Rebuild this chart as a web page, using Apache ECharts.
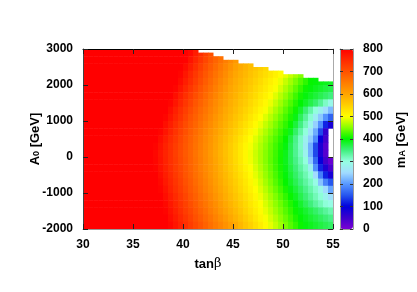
<!DOCTYPE html>
<html><head><meta charset="utf-8">
<script src="https://cdn.jsdelivr.net/npm/echarts/dist/echarts.min.js"></script>
<style>html,body{margin:0;padding:0;background:#fff}#c{width:417px;height:292px}</style>
</head><body><div id="c"></div>
<script>
// tanβ cell centres
const tanBeta = [30.25,30.75,31.25,31.75,32.25,32.75,33.25,33.75,34.25,34.75,
  35.25,35.75,36.25,36.75,37.25,37.75,38.25,38.75,39.25,39.75,
  40.25,40.75,41.25,41.75,42.25,42.75,43.25,43.75,44.25,44.75,
  45.25,45.75,46.25,46.75,47.25,47.75,48.25,48.75,49.25,49.75,
  50.25,50.75,51.25,51.75,52.25,52.75,53.25,53.75,54.25,54.75];
// A0 cell centres (GeV), top row first
const a0 = [2900,2700,2500,2300,2100,1900,1700,1500,1300,1100,900,700,500,300,100,
  -100,-300,-500,-700,-900,-1100,-1300,-1500,-1700,-1900];
// upper A0 limit of the scanned region for each tanβ column
const a0Top = [3000,3000,3000,3000,3000,3000,3000,3000,3000,3000,
  3000,3000,3000,3000,3000,3000,3000,3000,3000,3000,
  3000,3000,3000,2900,2900,2900,2800,2800,2700,2700,
  2700,2600,2600,2600,2500,2500,2500,2400,2400,2400,
  2300,2300,2300,2300,2200,2200,2200,2100,2100,2100];
// m_A (GeV); null = no valid point
const _ = null;
const mA = [
 [800,800,800,800,800,800,800,800,800,800,800,800,800,800,800,800,800,800,800,800,800,789,767,746,724,702,_,_,_,_,_,_,_,_,_,_,_,_,_,_,_,_,_,_,_,_,_,_,_,_],
 [800,800,800,800,800,800,800,800,800,800,800,800,800,800,800,800,800,800,800,800,798,777,756,735,715,695,679,663,647,631,615,_,_,_,_,_,_,_,_,_,_,_,_,_,_,_,_,_,_,_],
 [800,800,800,800,800,800,800,800,800,800,800,800,800,800,800,800,800,800,800,800,786,765,745,724,704,687,670,654,638,621,605,593,583,572,562,552,542,_,_,_,_,_,_,_,_,_,_,_,_,_],
 [800,800,800,800,800,800,800,800,800,800,800,800,800,800,800,800,800,800,800,794,774,754,734,714,695,679,662,646,630,613,598,587,577,566,556,545,535,524,514,503,491,477,464,450,_,_,_,_,_,_],
 [800,800,800,800,800,800,800,800,800,800,800,800,800,800,800,800,800,800,800,786,766,746,726,706,688,672,655,638,622,605,592,582,571,560,549,538,527,516,505,492,477,462,447,432,417,402,397,393,389,385],
 [800,800,800,800,800,800,800,800,800,800,800,800,800,800,800,800,800,800,794,775,755,735,716,697,680,664,648,631,615,599,588,577,566,554,543,532,521,510,498,483,467,452,436,420,405,396,389,383,376,370],
 [800,800,800,800,800,800,800,800,800,800,800,800,800,800,800,800,800,800,783,763,744,725,706,689,673,656,640,624,608,594,583,571,560,548,537,525,514,502,487,471,456,440,424,408,395,386,377,368,359,350],
 [800,800,800,800,800,800,800,800,800,800,800,800,800,800,800,800,800,794,775,755,735,716,697,681,665,649,633,617,602,589,577,565,554,542,530,518,506,492,477,461,445,430,414,399,385,371,357,338,314,290],
 [800,800,800,800,800,800,800,800,800,800,800,800,800,800,800,800,800,783,763,744,725,706,689,673,658,642,627,611,596,584,572,559,547,535,522,510,497,482,466,451,435,420,405,382,355,329,303,277,251,225],
 [800,800,800,800,800,800,800,800,800,800,800,800,800,800,800,800,794,775,756,737,717,698,683,667,652,636,620,605,591,578,565,553,540,527,514,501,486,471,456,441,426,411,392,364,336,308,273,235,196,160],
 [800,800,800,800,800,800,800,800,800,800,800,800,800,800,800,800,783,765,746,728,709,692,677,661,645,630,614,599,585,572,559,545,532,519,505,491,476,462,447,432,418,403,377,349,320,286,241,193,121,80],
 [800,800,800,800,800,800,800,800,800,800,800,800,800,800,800,794,776,757,739,720,702,686,670,655,639,623,608,593,579,565,551,538,524,510,496,481,467,452,438,423,409,389,360,331,303,259,214,142,58,_],
 [800,800,800,800,800,800,800,800,800,800,800,800,800,800,800,784,767,749,732,714,697,681,666,650,634,619,603,588,574,559,545,530,516,501,487,473,459,444,430,416,401,374,344,315,279,238,190,95,45,_],
 [800,800,800,800,800,800,800,800,800,800,800,800,800,800,795,778,761,744,727,710,694,678,663,647,631,616,600,585,570,555,540,525,510,496,482,468,454,439,425,411,395,368,341,314,272,217,142,77,30,_],
 [800,800,800,800,800,800,800,800,800,800,800,800,800,800,792,775,758,742,725,708,692,677,661,645,630,614,598,583,568,553,538,523,508,493,479,465,451,437,423,408,390,366,341,317,281,219,142,77,30,_],
 [800,800,800,800,800,800,800,800,800,800,800,800,800,800,793,777,760,743,727,710,694,678,663,647,631,616,600,585,570,555,539,524,509,494,480,465,451,436,422,407,389,367,346,324,302,236,164,95,45,15],
 [800,800,800,800,800,800,800,800,800,800,800,800,800,800,795,778,762,745,728,712,695,680,664,648,633,617,602,587,572,557,543,528,513,499,484,469,454,439,424,409,392,373,353,333,314,275,193,121,75,40],
 [800,800,800,800,800,800,800,800,800,800,800,800,800,800,800,784,767,750,733,716,698,683,667,652,636,620,605,590,576,561,547,533,519,504,489,474,458,443,428,412,396,378,360,342,324,305,250,181,119,80],
 [800,800,800,800,800,800,800,800,800,800,800,800,800,800,800,790,772,755,738,721,703,688,672,656,641,625,609,594,580,566,552,538,524,510,495,480,464,448,433,417,402,384,367,350,333,316,294,231,183,150],
 [800,800,800,800,800,800,800,800,800,800,800,800,800,800,800,795,778,760,743,726,709,692,677,661,645,630,614,599,585,571,557,543,529,515,501,486,471,455,440,425,409,393,377,361,344,328,311,288,249,210],
 [800,800,800,800,800,800,800,800,800,800,800,800,800,800,800,800,784,767,750,733,716,698,683,667,652,636,620,605,590,576,563,549,535,521,507,493,478,463,448,433,418,403,387,370,354,338,321,305,281,255],
 [800,800,800,800,800,800,800,800,800,800,800,800,800,800,800,800,790,773,756,739,722,705,689,673,658,642,627,611,596,582,568,554,540,526,513,499,484,470,455,441,426,412,397,382,366,351,335,320,305,295],
 [800,800,800,800,800,800,800,800,800,800,800,800,800,800,800,800,795,778,762,745,728,712,695,680,665,649,634,618,603,589,575,561,546,532,518,504,490,476,461,447,433,419,404,392,381,370,359,347,336,325],
 [800,800,800,800,800,800,800,800,800,800,800,800,800,800,800,800,800,785,769,752,736,720,703,688,673,658,642,627,612,597,583,569,555,540,526,511,497,483,469,454,440,426,411,398,389,380,372,363,354,345],
 [800,800,800,800,800,800,800,800,800,800,800,800,800,800,800,800,800,792,776,760,744,727,711,696,681,666,651,637,622,607,593,578,563,549,534,519,504,490,476,461,447,433,419,404,395,388,381,374,367,360]
];
const xRange = [30, 55], xStep = 5;
const yRange = [-2000, 3000], yStep = 1000;
const cbRange = [0, 800], cbStep = 100;
const palette = ['#7a00d4','#3c00cc','#0000dc','#2656ee','#5898ff','#a2dcff','#96ffe2','#40f07e',
  '#00f400','#84ff00','#ffff00','#ffd000','#ffa400','#ff7c00','#ff5200','#ff2a00','#ff0000'];

const FONT = '"Liberation Sans", Arial, Helvetica, sans-serif';
const cells = [];
a0.forEach((a, r) => tanBeta.forEach((t, c) => {
  const v = mA[r][c];
  if (v !== null) cells.push([t, a, v, a0Top[c]]);
}));
const dT = tanBeta[1] - tanBeta[0];
const dA = a0[0] - a0[1];

const chart = echarts.init(document.getElementById('c'), null, {renderer: 'canvas'});
const lbl = {color: '#000', fontWeight: 'bold', fontSize: 12, fontFamily: FONT, formatter: v => String(v)};
function frameAxis(extra) {
  return Object.assign({
    type: 'value', splitLine: {show: false}, z: 5,
    axisLine: {show: true, onZero: false, lineStyle: {color: '#999', width: 1}},
    axisTick: {show: true, inside: true, length: 5, lineStyle: {color: '#222'}},
    axisLabel: {show: false}
  }, extra);
}
chart.setOption({
  animation: false,
  backgroundColor: '#fff',
  grid: [
    {left: 83, top: 49, width: 250, height: 180, containLabel: false},
    {left: 340, top: 49, width: 13, height: 180, containLabel: false}
  ],
  xAxis: [
    frameAxis({gridIndex: 0, position: 'bottom', min: xRange[0], max: xRange[1], interval: xStep,
      axisLine: {show: true, onZero: false, lineStyle: {color: '#999'}},
      axisLabel: Object.assign({show: true, margin: 10}, lbl)}),
    frameAxis({gridIndex: 0, position: 'top', min: xRange[0], max: xRange[1], interval: xStep,
      axisLine: {show: true, onZero: false, lineStyle: {color: '#000'}}}),
    frameAxis({gridIndex: 1, position: 'bottom', min: 0, max: 1, axisTick: {show: false}, z: 10}),
    frameAxis({gridIndex: 1, position: 'top', min: 0, max: 1, axisTick: {show: false}, z: 10})
  ],
  yAxis: [
    frameAxis({gridIndex: 0, position: 'left', min: yRange[0], max: yRange[1], interval: yStep,
      axisLine: {show: true, onZero: false, lineStyle: {color: '#444'}},
      axisLabel: Object.assign({show: true, margin: 10}, lbl)}),
    frameAxis({gridIndex: 0, position: 'right', min: yRange[0], max: yRange[1], interval: yStep,
      axisLine: {show: true, onZero: false, lineStyle: {color: '#aaa'}}}),
    frameAxis({gridIndex: 1, position: 'right', min: cbRange[0], max: cbRange[1], interval: cbStep, z: 10,
      axisTick: {show: true, inside: true, length: 3, lineStyle: {color: '#333'}},
      axisLabel: Object.assign({show: true, margin: 10}, lbl)}),
    frameAxis({gridIndex: 1, position: 'left', min: cbRange[0], max: cbRange[1], interval: cbStep, z: 10,
      axisTick: {show: true, inside: true, length: 3, lineStyle: {color: '#333'}}})
  ],
  visualMap: {
    type: 'continuous', min: cbRange[0], max: cbRange[1], seriesIndex: 0, dimension: 2,
    calculable: false, realtime: false, hoverLink: false,
    left: 340, top: 49, itemWidth: 13, itemHeight: 180, padding: 0,
    inRange: {color: palette}, text: null, showLabel: false
  },
  series: [{
    type: 'custom', xAxisIndex: 0, yAxisIndex: 0, data: cells, clip: true, silent: true,
    encode: {x: 0, y: 1},
    renderItem: function (params, api) {
      const t = api.value(0), a = api.value(1), top = api.value(3);
      const p0 = api.coord([t - dT / 2, Math.min(a + dA / 2, top)]);
      const p1 = api.coord([t + dT / 2, a - dA / 2]);
      return {type: 'rect',
        shape: {x: p0[0], y: p0[1], width: p1[0] - p0[0] + 0.5, height: p1[1] - p0[1] + 0.5},
        style: {fill: api.visual('color')}};
    }
  }],
  graphic: [
    {type: 'text', x: 34, y: 139, rotation: Math.PI / 2, style: {
      text: '{a|A}{s|0}{a| [GeV]}', align: 'center', verticalAlign: 'middle',
      rich: {a: {fontSize: 13, fontWeight: 'bold', fontFamily: FONT, fill: '#000', verticalAlign: 'bottom', lineHeight: 15},
             s: {fontSize: 9, fontWeight: 'bold', fontFamily: FONT, fill: '#000', verticalAlign: 'bottom', lineHeight: 6}}}},
    {type: 'text', x: 208, y: 264, style: {
      text: '{a|tan}{g|β}', align: 'center', verticalAlign: 'middle',
      rich: {a: {fontSize: 13, fontWeight: 'bold', fontFamily: FONT, fill: '#000'},
             g: {fontSize: 13, fontWeight: 'normal', fontFamily: '"DejaVu Serif", serif', fill: '#000'}}}},
    {type: 'text', x: 400, y: 140, rotation: Math.PI / 2, style: {
      text: '{a|m}{s|A}{a| [GeV]}', align: 'center', verticalAlign: 'middle',
      rich: {a: {fontSize: 13, fontWeight: 'bold', fontFamily: FONT, fill: '#000', verticalAlign: 'bottom', lineHeight: 15},
             s: {fontSize: 9, fontWeight: 'bold', fontFamily: FONT, fill: '#000', verticalAlign: 'bottom', lineHeight: 6}}}}
  ]
});
</script></body></html>
